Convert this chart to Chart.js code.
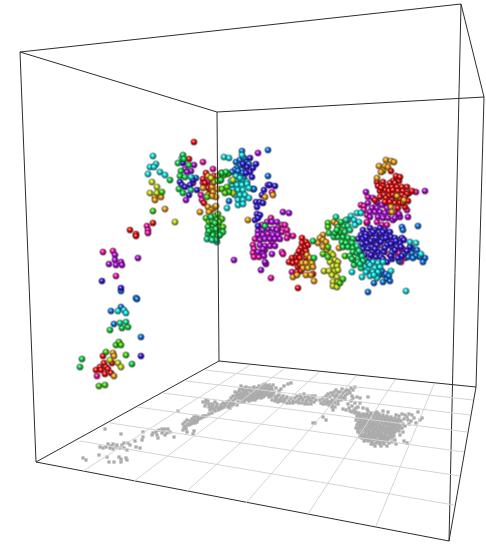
<!DOCTYPE html>
<html>
<head>
<meta charset="utf-8">
<title>3D scatter</title>
<script src="https://cdn.jsdelivr.net/npm/chart.js@4"></script>
<style>
  html, body { margin: 0; padding: 0; background: #fff; }
  canvas { display: block; }
</style>
</head>
<body>
<canvas id="chart" width="486" height="544"></canvas>
<script>
const boxEdges = [
  [20,52,461,4],[20,52,217,112],[217,112,484,97],[461,4,484,97],
  [20,52,36,462],[217,112,219,361],[461,4,449,541],[484,97,476,387],
  [36,462,219,361],[219,361,476,387],[36,462,449,541],[449,541,476,387]
];
const floorRows = [
  [205,370,473,400],[186,381,470,415],[163,393,467,432],
  [137,407,464,452],[110,423,460,476],[80,441,454,505]
];
const floorColumns = [
  [83,471,250,365],[134,481,285,368],[187,491,319,372],
  [246,503,356,376],[308,514,395,380],[376,526,434,384]
];

const shadowPoints = [
  [83,458],[86,460],[99,455],[107,457],[109,462],[114,462],[119,457],[121,462],[121,459],[126,458],[127,460],[105,429],
  [121,434],[100,447],[103,448],[106,447],[108,444],[111,446],[113,444],[116,447],[110,448],[113,449],[117,445],[122,445],
  [124,443],[128,443],[130,445],[124,448],[127,450],[120,448],[135,441],[136,447],[140,448],[142,440],[143,437],[143,432],
  [153,433],[156,432],[159,430],[162,429],[165,429],[168,429],[157,435],[162,433],[165,435],[167,433],[170,432],[158,438],
  [174,437],[152,435],[163,431],[178,411],
  [183,424],[185,422],[187,420],[188,424],[190,421],[192,419],[194,417],[196,416],[198,417],[193,421],[195,420],[197,420],
  [199,419],[201,418],[203,416],[186,426],[189,425],[191,424],[193,423],[195,423],[183,430],[184,427],[187,432],[193,434],
  [194,431],[186,429],[205,416],[197,422],
  [203,402],[205,406],[208,401],[209,404],[211,407],[213,405],[215,402],[217,404],[219,408],[221,405],[223,403],[225,405],
  [227,402],[229,401],[231,403],[233,401],[235,399],[210,410],[212,408],[214,409],[216,407],[218,410],[220,409],[222,408],
  [224,407],[228,407],[232,405],[230,408],[206,400],[215,411],[212,413],[209,414],[206,416],[203,417],[237,405],[234,404],
  [236,396],[238,398],[240,395],[242,399],[244,393],[246,397],[248,394],[250,398],[252,395],[254,392],[256,396],[258,393],
  [260,391],[262,395],[264,392],[266,388],[268,391],[270,394],[272,389],[274,392],[276,388],[241,386],[243,390],[245,388],
  [247,391],[249,388],[251,391],[253,388],[255,390],[257,388],[259,386],[261,389],[263,385],[265,384],[267,386],[269,385],
  [271,387],[273,385],[239,391],[237,393],[241,393],[243,396],[245,400],[247,399],[249,401],[251,399],[253,398],[255,400],
  [257,398],[259,397],[261,398],[263,397],[265,395],[267,394],[269,397],[271,396],[235,392],[233,396],[231,398],[238,402],
  [241,402],[244,402],[288,384],[284,386],[291,383],[279,391],[281,389],[277,396],
  [240,389],[244,391],[248,390],[252,393],[256,391],[260,394],[264,389],[268,388],[245,394],[249,396],[253,396],[257,394],
  [261,392],[265,391],[269,391],[272,393],[238,395],[242,396],[246,393],[250,395],[254,394],[258,395],[262,393],[266,393],
  [240,398],[244,398],[248,399],[252,400],[256,398],[260,396],[264,396],[268,395],[242,388],[246,387],[250,389],[254,387],
  [258,390],[262,387],[266,386],[270,389],[209,407],[213,409],[217,407],[221,407],[225,404],[229,405],[212,404],[206,403],
  [271,396],[273,394],[275,397],[277,399],[279,395],[281,398],[283,396],[285,399],[287,397],[289,400],[291,398],[293,401],
  [295,398],[297,396],[299,399],[301,397],[303,400],[305,397],[307,400],[309,398],[311,401],[313,398],[315,396],[272,400],
  [275,401],[278,402],[281,401],[284,402],[287,403],[290,403],[293,403],[296,402],[299,403],[302,403],[305,404],[308,404],
  [311,404],[300,395],[304,394],[308,396],[312,396],[316,400],[298,401],[302,399],[306,402],[310,400],[314,402],[276,399],[280,400],[284,400],
  [320,400],[321,403],[323,398],[324,401],[326,396],[327,399],[329,402],[330,397],[332,400],[333,395],[335,398],[337,395],
  [338,401],[340,392],[341,396],[343,393],[345,391],[347,394],[349,391],[351,388],[353,390],[355,387],[323,404],[326,404],
  [329,405],[332,404],[335,403],[338,404],[341,400],[343,398],[345,396],[347,390],[342,389],[338,392],[334,392],[331,393],
  [328,394],[350,393],[332,407],[335,407],[333,410],[327,402],[345,399],[336,390],[336,396],[339,398],[331,402],[334,401],
  [343,409],[346,410],[349,408],[350,411],[352,412],[354,410],[356,408],[358,407],[352,406],[355,403],[351,401],[353,398],
  [352,396],[357,397],[360,398],[360,403],[363,408],[367,409],[368,397],[356,412],[348,404],
  [313,423],[315,423],[323,417],[326,420],
  [355,413],[357,416],[359,413],[361,417],[363,414],[365,417],[367,414],[369,417],[371,413],[373,416],[375,413],[377,417],
  [379,414],[381,418],[383,415],[385,419],[387,416],[389,420],[391,417],[393,421],[395,418],[397,422],[399,419],[401,421],
  [356,420],[358,418],[360,422],[362,419],[364,423],[366,420],[368,423],[370,420],[372,424],[374,420],[376,424],[378,421],
  [380,425],[382,421],[384,425],[386,422],[388,426],[390,423],[392,427],[394,424],[396,427],[398,425],[400,426],[403,424],
  [357,425],[359,428],[361,425],[363,428],[365,425],[367,429],[369,426],[371,429],[373,426],[375,430],[377,427],[379,431],
  [381,427],[383,431],[385,428],[387,432],[389,429],[391,433],[393,430],[395,432],[397,430],[399,431],[358,432],[360,434],
  [362,431],[364,435],[366,432],[368,436],[370,433],[372,436],[374,433],[376,437],[378,434],[380,438],[382,435],[384,438],
  [386,436],[388,439],[390,436],[392,438],[394,436],[362,438],[364,441],[366,438],[368,441],[370,440],[372,442],[374,439],
  [376,443],[378,441],[380,444],[382,441],[384,444],[386,441],[389,443],[375,446],[381,446],[356,428],[360,437],[371,444],
  [387,446],[395,440],[404,441],[407,443],[396,444],[392,442],
  [360,415],[364,415],[368,416],[372,415],[376,415],[380,416],[384,417],[388,418],[392,419],[396,420],[358,422],[362,422],
  [366,422],[370,422],[374,422],[378,423],[382,423],[386,424],[390,425],[394,426],[398,423],[360,427],[364,427],[368,427],
  [372,427],[376,428],[380,429],[384,429],[388,430],[392,431],[396,429],[361,432],[365,430],[369,431],[373,431],[377,432],
  [381,433],[385,434],[389,434],[393,434],[365,434],[369,435],[373,435],[377,435],[381,436],[385,436],[389,438],[367,439],
  [371,438],[375,439],[379,440],[383,440],[387,441],
  [358,415],[362,416],[366,415],[370,415],[374,418],[378,419],[382,419],[386,420],[390,421],[394,422],[398,421],[360,419],
  [364,420],[368,419],[372,420],[376,420],[380,421],[384,422],[388,423],[392,424],[396,425],[359,424],[363,425],[367,424],
  [371,424],[375,425],[379,426],[383,427],[387,428],[391,428],[395,428],[399,428],[358,430],[362,428],[366,429],[370,428],
  [374,429],[378,430],[382,430],[386,431],[390,431],[394,430],[361,435],[365,436],[369,433],[373,433],[377,434],[381,434],
  [385,432],[389,432],[393,432],[363,437],[367,437],[371,437],[375,436],[379,436],[383,437],[387,437],[391,436],[365,440],
  [369,439],[373,440],[377,440],[381,439],[385,439],[373,444],[379,443],[383,442],
  [396,415],[399,416],[402,414],[405,415],[407,417],[409,414],[412,415],[414,418],[418,412],[420,420],[422,418],[416,423],
  [408,420],[411,421],[404,419],[402,428],[405,426],[409,424],[400,435],[403,432],[388,412],[383,411],[377,412],[368,411]
];

const redPoints = [
  [194,142],[153,223],[130,230],[136,234],[136,236],[103,356],[104,363],[112,363],[100,367],[106,367],[96,370],[101,370],[108,369],[111,373],[105,374],
  [189,159],[206,173],[203,179],[208,188],[210,193],[204,203],[212,184],[205,183],[211,190],[214,176],
  [302,238],[306,242],[302,243],[305,247],[308,245],[301,248],[306,251],[297,255],[302,253],[295,258],[300,258],[292,258],[289,262],[293,263],[297,262],
  [298,267],[297,272],[301,271],[313,274],[298,288],[306,258],[299,251],[300,265],
  [391,171],[377,182],[397,179],[393,181],[399,181],[383,182],[390,183],[395,183],[383,186],[388,187],[392,187],[397,187],[402,187],[407,187],
  [380,191],[385,190],[389,191],[393,190],[398,191],[403,191],[409,193],[407,194],[384,195],[389,196],[393,195],[402,195],[405,197],[380,197],
  [386,198],[392,200],[397,200],[400,199],[385,202],[390,202],[395,203],[400,203],[405,207],[398,208],[396,196],[375,200],
  [412,191],[408,201],[378,186],[381,188],[396,176],[400,177],[403,203]
];
const orangePoints = [
  [155,197],[155,200],[161,197],[165,209],[113,353],[114,356],[114,376],
  [218,176],[208,176],[203,188],[212,187],[213,192],[216,197],[208,195],[214,182],[218,189],[212,196],
  [208,207],[200,212],[214,208],[211,210],[209,212],[216,206],[248,220],[273,195],[265,197],
  [334,222],[337,224],[323,235],[320,238],[318,243],[323,240],[326,242],[323,247],[327,250],[339,248],
  [307,255],[310,258],[302,263],[306,263],[312,263],[303,268],[308,268],[313,267],[306,275],[311,275],[293,277],[297,275],[314,281],
  [386,160],[391,161],[394,162],[379,166],[385,166],[388,167],[383,171],[381,172],[377,178],[397,196],[404,200],[391,207],[392,212]
];
const yellowPoints = [
  [152,182],[157,187],[150,193],[157,193],[175,222],[110,360],[118,363],[121,367],[211,178],[233,180],[233,193],
  [331,253],[333,255],[335,260],[338,262],[330,262],[333,266],[337,266],[324,271],[329,271],[335,271],[338,270],[332,275],[337,277],[333,282],[338,282],[333,286],[337,287]
];
const limePoints = [
  [162,192],[153,211],[106,352],[126,355],[99,386],[105,385],[116,345],[119,342],[121,345],
  [220,180],[222,189],[227,187],[229,192],[225,193],[221,173],[207,197],[228,174],
  [206,218],[215,216],[218,214],[222,219],[217,220],[209,222],[213,226],[219,227],[223,227],[212,221],[219,222],[224,175],[218,181],
  [328,247],[323,254],[328,257],[340,283],[343,279],[345,256],[328,223],[328,227]
];
const greenPoints = [
  [170,180],[82,359],[80,367],[132,364],[110,330],[122,328],[128,327],[178,163],[183,155],[189,165],[181,171],[180,176],[185,177],
  [179,189],[183,193],[222,173],[221,180],[226,172],[208,227],[217,232],[223,232],[212,230],[208,234],[213,235],[218,236],
  [215,223],[216,229],[209,231],[220,235],[216,240],[184,159],
  [265,226],[313,241],[314,258],[329,233],[334,237],[338,237],[343,237],[348,238],[353,239],[342,242],[346,243],[352,243],
  [343,247],[348,247],[353,248],[353,252],[357,253],[355,261],[358,259],[354,265],[338,227],[344,226],[341,222],[335,233],[340,232],[345,232],
  [337,230],[350,256],[352,259]
];
const tealPoints = [
  [120,323],[126,322],[191,190],[336,217],[346,220],[348,226],[350,230],[357,246],[359,251],[362,256],[207,239],[212,240],[211,217],
  [363,261],[361,268],[358,262],[360,264]
];
const cyanPoints = [
  [153,156],[156,164],[150,167],[154,167],[148,174],[160,172],[165,175],[118,311],[124,310],[126,313],[182,158],[191,177],[217,242],
  [224,157],[229,158],[242,155],[237,180],[242,180],[247,182],[232,185],[237,185],[242,185],[247,184],[233,190],[238,190],[243,190],[249,188],
  [235,195],[240,195],[245,195],[249,198],[238,200],[243,200],[238,205],[243,204],[227,208],[236,176],[240,178],[231,181],
  [351,216],[357,213],[361,213],[348,220],[354,220],[359,222],[355,225],[352,272],[362,277],[410,242],[416,243],[421,254],[406,291],[391,271],
  [368,263],[373,262],[378,263],[383,262],[365,267],[370,265],[375,268],[380,267],[368,270],[373,272],[370,276],[377,278],[364,260],[361,258],
  [378,272],[366,272],[374,275]
];
const bluePoints = [
  [102,281],[121,288],[141,356],[183,163],[180,182],[182,185],[190,185],[185,187],[197,190],[189,195],[193,180],
  [250,158],[256,164],[253,168],[247,167],[250,172],[246,173],[252,177],[243,164],
  [264,190],[268,185],[270,185],[275,186],[262,195],[256,202],[260,202],[263,203],[257,207],[257,214],[260,215],[255,220],[258,226],[258,218],
  [363,230],[370,228],[375,230],[380,228],[385,230],[390,232],[361,235],[366,234],[371,234],[376,235],[381,234],[386,235],[391,237],[395,238],[402,238],[404,240],
  [358,239],[363,239],[368,239],[378,240],[383,239],[388,241],[393,242],[400,243],[410,247],[362,244],[367,243],[372,247],[377,245],[387,245],[392,247],[397,247],[407,251],
  [363,249],[368,249],[373,252],[378,252],[384,252],[365,255],[370,259],[376,257],[381,257],[387,262],[392,259],[398,258],
  [373,232],[383,232],[366,237],[376,238],[386,238],[396,241],[371,241],[381,242],[391,244],[401,247],[375,249],[385,248],[395,250],[360,252],[371,255],[391,256],[402,256],[383,259]
];
const azurePoints = [
  [121,291],[136,298],[137,299],[121,307],[111,311],[114,324],[141,337],[196,178],[268,150],[242,151],[246,161],[236,162],[240,166],[237,168],
  [245,167],[235,170],[242,170],[237,175],[241,175],[244,178],[253,189],[229,201],[254,189],[268,176],[240,160],[244,158],[238,171],[249,164],[243,173],[232,172],
  [418,226],[402,227],[403,230],[417,250],[412,253],[425,258],[423,262],[408,257],[404,254],[412,248],[416,256],[413,258],[420,257],[399,261],
  [384,275],[378,269],[374,283],[368,292],[387,279],[390,281],[382,271],[379,275],[386,274],[383,282],[389,276],
  [366,238],[378,236],[388,244],[372,242],[364,246],[392,252],[399,240],[381,250]
];
const purplePoints = [
  [185,169],[191,171],[187,172],[193,183],[186,200],[194,165],[115,255],[115,260],[121,262],[109,264],[116,265],[122,265],[138,258],[234,260],[258,153],
  [283,212],[289,213],[261,270],[266,264],[265,262],[272,254],[263,253],[258,252],[264,256],
  [366,192],[425,191],[373,198],[377,202],[368,203],[372,208],[377,208],[382,205],[387,208],[370,212],[375,212],[380,212],[385,213],[390,212],[395,212],
  [378,217],[383,218],[388,218],[393,220],[400,217],[408,217],[370,217],[395,218],[402,249],[399,214],
  [267,222],[272,222],[277,222],[258,231],[263,230],[268,229],[273,229],[277,230],[258,235],[263,235],[268,234],[273,235],[278,235],[260,240],[265,239],[270,239],[275,239],[280,239],[260,245],[265,246],[270,246],[275,246],[263,249]
];
const magentaPoints = [
  [147,226],[148,230],[148,233],[103,252],[113,251],[116,276],[97,376],[203,162],[213,169],[203,183],[208,182],[201,195],[202,200],[272,192],[292,272],
  [271,218],[262,225],[282,225],[285,225],[282,232],[287,230],[293,236],[288,235],[287,238],[255,239],[253,245],[254,249],[253,253],[254,257],[259,257],[282,252],[283,254],[271,278],
  [265,250],[272,242],[278,228],
  [416,192],[368,197],[361,205],[364,206],[367,215],[367,223],[377,222],[367,222],[382,225],[387,225],[407,210],[369,234],[373,242],[382,248],[389,254],[394,253],[399,253],[405,258],[401,262],[372,255],[405,250],
  [364,210],[376,206],[386,204]
];

// sphere sprite with a faint grey halo, one per hue
function sphere(rgb) {
  const mix = (k, to) => 'rgb(' + rgb.map(v => Math.round(v + (to - v) * k)).join(',') + ')';
  const c = document.createElement('canvas');
  c.width = 11;
  c.height = 11;
  const g = c.getContext('2d');
  g.fillStyle = 'rgba(140,140,140,0.2)';
  g.beginPath();
  g.arc(5.5, 5.5, 3.8, 0, Math.PI * 2);
  g.fill();
  const grad = g.createRadialGradient(4.7, 4.5, 0.1, 5.5, 5.5, 3.1);
  grad.addColorStop(0, '#ffffff');
  grad.addColorStop(0.25, mix(0.35, 255));
  grad.addColorStop(0.5, mix(0, 255));
  grad.addColorStop(0.8, mix(0.45, 0));
  grad.addColorStop(1, mix(0.85, 0));
  g.fillStyle = grad;
  g.beginPath();
  g.arc(5.5, 5.5, 3.1, 0, Math.PI * 2);
  g.fill();
  return c;
}

const edge = (e, color) => ({
  type: 'line',
  data: [{ x: e[0], y: e[1] }, { x: e[2], y: e[3] }],
  borderColor: color,
  borderWidth: 1,
  pointRadius: 0,
  fill: false
});
const cloud = (points, rgb) => ({
  type: 'scatter',
  data: points.map(p => ({ x: p[0], y: p[1] })),
  pointStyle: sphere(rgb),
  pointRadius: 4
});

new Chart(document.getElementById('chart'), {
  data: {
    datasets: [
      ...floorRows.map(e => edge(e, '#d4d4d4')),
      ...floorColumns.map(e => edge(e, '#d4d4d4')),
      ...boxEdges.map(e => edge(e, '#2c2c2c')),
      {
        type: 'scatter',
        data: shadowPoints.map(p => ({ x: p[0], y: p[1] })),
        pointBackgroundColor: '#ababab',
        pointBorderWidth: 0,
        pointStyle: 'rect',
        pointRadius: 2.3
      },
      cloud(tealPoints, [0, 220, 130]),
      cloud(greenPoints, [0, 215, 65]),
      cloud(limePoints, [50, 215, 0]),
      cloud(yellowPoints, [195, 215, 0]),
      cloud(orangePoints, [235, 150, 0]),
      cloud(redPoints, [245, 0, 0]),
      cloud(cyanPoints, [0, 225, 225]),
      cloud(bluePoints, [45, 15, 230]),
      cloud(azurePoints, [0, 110, 235]),
      cloud(purplePoints, [175, 0, 220]),
      cloud(magentaPoints, [240, 0, 165])
    ]
  },
  options: {
    responsive: false,
    animation: false,
    layout: { padding: 0, autoPadding: false },
    plugins: { legend: { display: false }, tooltip: { enabled: false } },
    scales: {
      x: { type: 'linear', min: 0, max: 486, display: false },
      y: { type: 'linear', min: 0, max: 544, reverse: true, display: false }
    }
  }
});
</script>
</body>
</html>
